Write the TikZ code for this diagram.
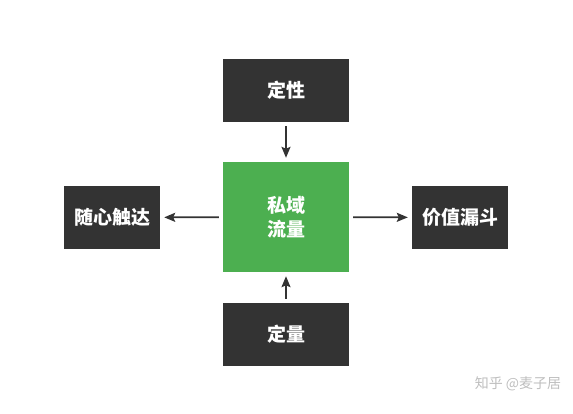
\documentclass[tikz,border=0pt]{standalone}
\usepackage{fontspec}
\setmainfont{Noto Sans CJK SC}
\usepackage{tikz}
\usetikzlibrary{arrows.meta,positioning}
\definecolor{boxdark}{RGB}{51,51,51}
\definecolor{coregreen}{RGB}{76,175,80}
\definecolor{markgray}{RGB}{190,190,190}

\begin{document}
\begin{tikzpicture}[
    x=1pt, y=-1pt,
    box/.style={fill=boxdark, minimum width=126pt, minimum height=63pt, inner sep=0pt, align=center, text=white, font=\fontsize{19}{24}\selectfont\bfseries},
    sidebox/.style={box, minimum width=96pt},
    flow/.style={-{Stealth[length=11pt,width=9pt,inset=2pt]}, line width=1.8pt, boxdark, shorten <=4pt, shorten >=4pt},
]
    \useasboundingbox (0,0) rectangle (573,413);

    % Centre box
    \node[box, fill=coregreen, minimum height=110pt] (core) at (286,217) {私域\\流量};

    % Boxes round it
    \node[box] (dingxing) at (286,90.5) {定性};
    \node[box] (dingliang) at (286,334.5) {定量};
    \node[sidebox] (chuda) at (112,217.5) {随心触达};
    \node[sidebox] (loudou) at (460,217.5) {价值漏斗};

    % Arrows
    \draw[flow] (dingxing) -- (core);
    \draw[flow] (dingliang) -- (core);
    \draw[flow] (core) -- (chuda);
    \draw[flow] (core) -- (loudou);

    % Watermark
    \node[text=markgray, font=\fontsize{14}{14}\selectfont] (mark) at (518,384) {知乎 @麦子居};
\end{tikzpicture}
\end{document}
